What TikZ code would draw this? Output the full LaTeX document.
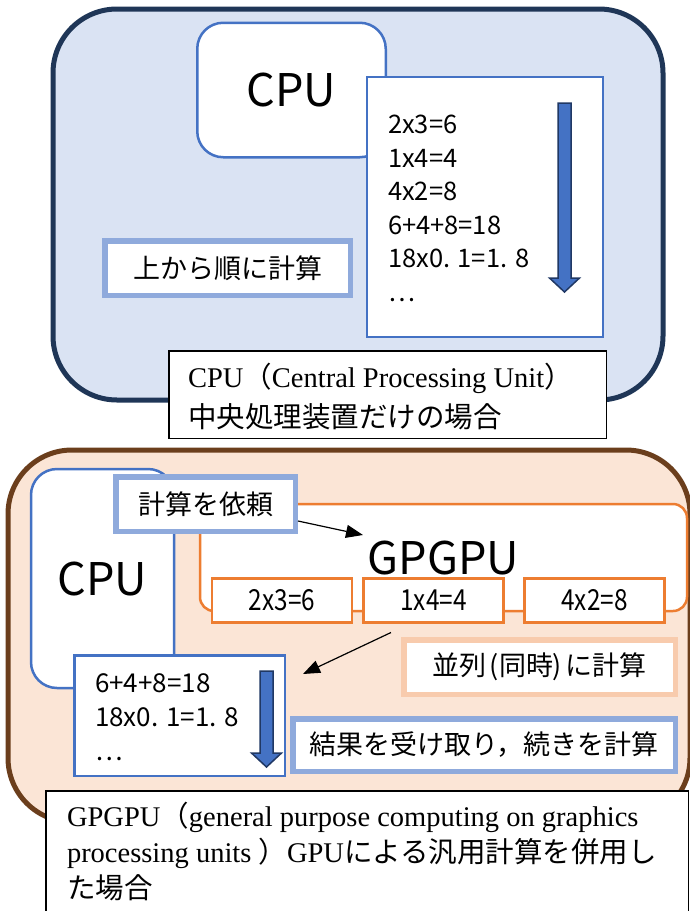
\documentclass[tikz,border=0pt]{standalone}
\usepackage{fontspec}
\setmainfont{Liberation Serif}
\newfontfamily\jpfont{Noto Sans CJK JP}
\newfontfamily\jpnarrow[FakeStretch=0.84]{Noto Sans CJK JP}
\usetikzlibrary{arrows.meta}

\newcommand\pxsize[1]{\fontsize{#1}{#1}\selectfont}
% thick block arrow pointing down: centre x, top y, tip y
\newcommand\flowdown[3]{%
  \draw[flow] (#1-6.5,#2) -- (#1+6.5,#2) -- (#1+6.5,#3-14) -- (#1+15,#3-14)
    -- (#1,#3) -- (#1-15,#3-14) -- (#1-6.5,#3-14) -- cycle;}

\definecolor{cpupanel}{HTML}{DAE3F3}
\definecolor{cpuedge}{HTML}{1F3657}
\definecolor{gpupanel}{HTML}{FBE5D6}
\definecolor{gpuedge}{HTML}{6B3E1C}
\definecolor{accentblue}{HTML}{4472C4}
\definecolor{paleblue}{HTML}{8FAADC}
\definecolor{accentorange}{HTML}{ED7D31}
\definecolor{paleorange}{HTML}{F8CBAD}
\definecolor{arrowedge}{HTML}{203864}

\tikzset{
  box/.style={inner sep=0pt, outer sep=0pt, anchor=center},
  panel/.style={box, line width=5pt, rounded corners=64pt},
  unitbox/.style={box, draw=accentblue, fill=white, line width=2.5pt,
    rounded corners=26pt, font=\jpfont\pxsize{45}},
  sheet/.style={box, draw=accentblue, fill=white, line width=2.5pt},
  note/.style={box, fill=white, line width=5.5pt, font=\jpfont\pxsize{27}},
  caption/.style={box, draw=black, fill=white, line width=1.5pt},
  captext/.style={box, anchor=base west, font=\pxsize{28.5}},
  gpu/.style={box, draw=accentorange, fill=white, line width=2.5pt},
  lane/.style={gpu, minimum width=140pt, minimum height=44pt,
    font=\jpnarrow\pxsize{29}},
  steps/.style={box, anchor=north west, align=left},
  conn/.style={line width=1.2pt, -{Triangle[length=17pt,width=13pt]}},
  flow/.style={fill=accentblue, draw=arrowedge, line width=1.5pt, line join=miter},
}

\begin{document}
\begin{tikzpicture}[x=1pt, y=-1pt]
\useasboundingbox (0,0) rectangle (690,911);

% ---------- CPU only ----------
\node[panel, draw=cpuedge, fill=cpupanel, minimum width=610pt,
      minimum height=391pt] (cpupanel) at (358,204.5) {};
\node[unitbox, minimum width=188.5pt, minimum height=134.5pt] (cpuA) at (291.5,90) {CPU};
\node[sheet, minimum width=236pt, minimum height=260pt] (listA) at (485,207) {};
\node[steps, font={\jpfont\fontsize{25.5}{33.5}\selectfont}] (stepsA) at (388,115)
  {2x3=6\\1x4=4\\4x2=8\\6+4+8=18\\18x0. 1=1. 8\\…};
\flowdown{564.5}{103}{292}
\node[note, draw=paleblue, minimum width=245.5pt, minimum height=54.5pt] (orderA)
  at (227.5,268) {上から順に計算};

\node[caption, minimum width=437.5pt, minimum height=87.5pt] (capA) at (387.5,394.5) {};
\node[captext] (capAen) at (188,387)
  {CPU{\jpfont （}Central Processing Unit{\jpfont ）}};
\node[captext, font=\jpfont\pxsize{28.5}] (capAjp) at (188,427) {中央処理装置だけの場合};

% ---------- CPU + GPGPU ----------
\node[panel, draw=gpuedge, fill=gpupanel, minimum width=682pt,
      minimum height=372pt] (gpupanel) at (349,636) {};
\node[unitbox, minimum width=143pt, minimum height=219pt] (cpuB) at (102.5,578.5) {CPU};
\node[gpu, rounded corners=14pt, minimum width=487pt, minimum height=107pt,
      font=\jpfont\pxsize{45}] (gpgpu) at (443.5,557.5) {GPGPU};
\node[note, draw=paleblue, minimum width=179.5pt, minimum height=54.5pt] (ask)
  at (205.5,504) {計算を依頼};

\node[lane] (g1) at (282,600.5) {2x3=6};
\node[lane] (g2) at (433.5,600.5) {1x4=4};
\node[lane] (g3) at (594.5,600.5) {4x2=8};

\node[sheet, minimum width=210.5pt, minimum height=120.5pt] (listB) at (179.5,715.5) {};
\node[steps, font={\jpfont\fontsize{26}{34}\selectfont}] (stepsB) at (95,674)
  {6+4+8=18\\18x0. 1=1. 8\\…};
\flowdown{266.5}{671}{767}

\node[note, draw=paleorange, minimum width=271.5pt, minimum height=54.5pt] (par)
  at (539.5,667) {並列\kern3pt(同時)\kern3pt に計算};
\node[note, draw=paleblue, minimum width=382.5pt, minimum height=52.5pt] (resume)
  at (484,745) {結果を受け取り，続きを計算};

\coordinate (askto) at (363,535);
\draw[conn] ([xshift=2.75pt,yshift=-17pt]ask.east) -- (askto);
\coordinate (backto) at (303,674);
\draw[conn] ([xshift=-42.5pt,yshift=-10pt]g2.south) -- (backto);

\node[caption, minimum width=642.5pt, minimum height=140pt] (capB) at (367,860.75) {};
\node[captext] (capB1) at (67,826)
  {GPGPU{\jpfont （}general purpose computing on graphics};
\node[captext] (capB2) at (67,862)
  {processing units {\jpfont ）}GPU{\jpfont による汎用計算を併用し}};
\node[captext, font=\jpfont\pxsize{28.5}] (capB3) at (67,898) {た場合};
\end{tikzpicture}
\end{document}
